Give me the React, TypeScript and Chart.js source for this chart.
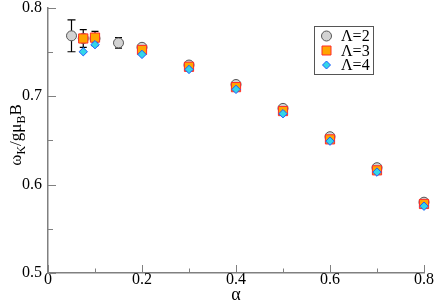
import React, { useEffect, useRef } from "react";
import { Chart, registerables } from "chart.js";

Chart.register(...registerables);

// ---- data ----
const alphaL2 = [0.05, 0.075, 0.1, 0.15, 0.2, 0.3, 0.4, 0.5, 0.6, 0.7, 0.8];
const omegaL2 = [0.768, 0.765, 0.765, 0.76, 0.755, 0.735, 0.713, 0.686, 0.654, 0.619, 0.58];
const errL2 = [0.018, 0.01, 0.008, 0.006, 0, 0, 0, 0, 0, 0, 0];

const alphaL3 = [0.075, 0.1, 0.2, 0.3, 0.4, 0.5, 0.6, 0.7, 0.8];
const omegaL3 = [0.765, 0.766, 0.752, 0.733, 0.71, 0.683, 0.651, 0.616, 0.578];

const alphaL4 = [0.075, 0.1, 0.2, 0.3, 0.4, 0.5, 0.6, 0.7, 0.8];
const omegaL4 = [0.75, 0.758, 0.747, 0.73, 0.7075, 0.68, 0.649, 0.614, 0.5755];

const seriesLabels = ["Λ=2", "Λ=3", "Λ=4"];
const xTitle = "α";

const FONT = '"Liberation Serif", "Times New Roman", serif';
const AXIS = "#808080";

const toPts = (xs: number[], ys: number[]) => xs.map((x, i) => ({ x, y: ys[i] }));

const styles = [
  { pointStyle: "circle", radius: 5, bg: "#d3d3d3", border: "#555555", bw: 1 },
  { pointStyle: "rect", radius: 6.5, bg: "#ffa500", border: "#ff2a2a", bw: 1 },
  { pointStyle: "rectRot", radius: 4.2, bg: "#33d6e8", border: "#1e5aff", bw: 1 },
];

const errorBarsPlugin = {
  id: "errorBars",
  beforeDatasetsDraw(chart: any) {
    const { ctx, scales } = chart;
    const xs = scales.x;
    const ys = scales.y;
    ctx.save();
    ctx.strokeStyle = "#000";
    ctx.lineWidth = 1.2;
    alphaL2.forEach((a, i) => {
      const e = errL2[i];
      if (!e) return;
      const px = xs.getPixelForValue(a);
      const top = ys.getPixelForValue(omegaL2[i] + e);
      const bot = ys.getPixelForValue(omegaL2[i] - e);
      const cap = i === 0 ? 4 : 3.5;
      ctx.beginPath();
      ctx.moveTo(px, top);
      ctx.lineTo(px, bot);
      ctx.moveTo(px - cap, top);
      ctx.lineTo(px + cap, top);
      ctx.moveTo(px - cap, bot);
      ctx.lineTo(px + cap, bot);
      ctx.stroke();
    });
    ctx.restore();
  },
};

const decorPlugin = {
  id: "decor",
  afterDraw(chart: any) {
    const { ctx, chartArea, scales } = chart;
    ctx.save();
    // inward tick marks
    ctx.strokeStyle = AXIS;
    ctx.lineWidth = 1;
    const xs = scales.x;
    xs.ticks.forEach((t: any) => {
      const px = Math.round(xs.getPixelForValue(t.value)) + 0.5;
      const len = t.label ? 8 : 4.5;
      ctx.beginPath();
      ctx.moveTo(px, chartArea.bottom);
      ctx.lineTo(px, chartArea.bottom - len);
      ctx.stroke();
    });
    const ysc = scales.y;
    ysc.ticks.forEach((t: any) => {
      const py = Math.round(ysc.getPixelForValue(t.value)) + 0.5;
      const len = t.label ? 8 : 5;
      ctx.beginPath();
      ctx.moveTo(chartArea.left, py);
      ctx.lineTo(chartArea.left + len, py);
      ctx.stroke();
    });

    // y title with subscripts
    const parts: [string, boolean][] = [
      ["ω", false],
      ["K", true],
      ["/gμ", false],
      ["B", true],
      ["B", false],
    ];
    const mainF = `17px ${FONT}`;
    const subF = `12px ${FONT}`;
    let total = 0;
    parts.forEach(([s, sub]) => {
      ctx.font = sub ? subF : mainF;
      total += ctx.measureText(s).width;
    });
    ctx.translate(21, 135);
    ctx.rotate(-Math.PI / 2);
    ctx.fillStyle = "#000";
    ctx.textBaseline = "alphabetic";
    ctx.textAlign = "left";
    let cx = -total / 2;
    parts.forEach(([s, sub]) => {
      ctx.font = sub ? subF : mainF;
      ctx.fillText(s, cx, sub ? 4 : 0);
      cx += ctx.measureText(s).width;
    });
    ctx.setTransform(1, 0, 0, 1, 0, 0);

    // legend
    const lx = 314.5, ly = 26.5, lw = 59, lh = 48;
    ctx.strokeStyle = "#555";
    ctx.lineWidth = 1;
    ctx.strokeRect(lx, ly, lw, lh);
    const rows = [36, 50.5, 65];
    ctx.font = `16px ${FONT}`;
    ctx.textBaseline = "middle";
    rows.forEach((ry, i) => {
      const st = styles[i];
      ctx.fillStyle = st.bg;
      ctx.strokeStyle = st.border;
      ctx.lineWidth = st.bw;
      const mx = 326.5;
      const r = i === 0 ? 5 : i === 1 ? 4.5 : 4;
      ctx.beginPath();
      if (i === 0) {
        ctx.arc(mx, ry, r, 0, Math.PI * 2);
      } else if (i === 1) {
        ctx.rect(mx - r, ry - r, 2 * r, 2 * r);
      } else {
        ctx.moveTo(mx, ry - r);
        ctx.lineTo(mx + r, ry);
        ctx.lineTo(mx, ry + r);
        ctx.lineTo(mx - r, ry);
        ctx.closePath();
      }
      ctx.fill();
      ctx.stroke();
      ctx.fillStyle = "#000";
      ctx.fillText(seriesLabels[i], 341, ry + 1);
    });
    ctx.restore();
  },
};

export default function App() {
  const ref = useRef<HTMLCanvasElement | null>(null);

  useEffect(() => {
    if (!ref.current) return;
    const datasets = [
      { label: seriesLabels[0], data: toPts(alphaL2, omegaL2), order: 3 },
      { label: seriesLabels[1], data: toPts(alphaL3, omegaL3), order: 2 },
      { label: seriesLabels[2], data: toPts(alphaL4, omegaL4), order: 1 },
    ].map((d, i) => ({
      ...d,
      showLine: false,
      clip: false,
      pointStyle: styles[i].pointStyle,
      pointRadius: styles[i].radius,
      pointBackgroundColor: styles[i].bg,
      pointBorderColor: styles[i].border,
      pointBorderWidth: styles[i].bw,
    }));

    const chart = new Chart(ref.current, {
      type: "scatter",
      data: { datasets } as any,
      plugins: [errorBarsPlugin, decorPlugin],
      options: {
        animation: false,
        responsive: false,
        maintainAspectRatio: false,
        layout: { padding: { top: 7, right: 12, left: 0, bottom: 0 } },
        plugins: { legend: { display: false }, tooltip: { enabled: false } },
        scales: {
          x: {
            type: "linear",
            min: 0,
            max: 0.8,
            afterFit(s: any) {
              s.height = 31;
              s.paddingLeft = 0;
              s.paddingRight = 0;
            },
            grid: { display: false, drawTicks: false },
            border: { display: true, color: AXIS, width: 1.5 },
            ticks: {
              stepSize: 0.1,
              autoSkip: false,
              maxRotation: 0,
              padding: -3,
              color: "#000",
              font: { family: FONT, size: 16 },
              callback: (v: any) => {
                const n = Math.round(Number(v) * 100);
                if (n % 20 !== 0) return "";
                return n === 0 ? "0" : (n / 100).toFixed(1);
              },
            },
            title: {
              display: true,
              text: xTitle,
              color: "#000",
              font: { family: FONT, size: 18 },
              padding: { top: 0, bottom: -2 },
            },
          },
          y: {
            type: "linear",
            min: 0.5,
            max: 0.8,
            afterFit(s: any) {
              s.width = 48;
              s.paddingTop = 0;
              s.paddingBottom = 0;
            },
            grid: { display: false, drawTicks: false },
            border: { display: true, color: AXIS, width: 1.5 },
            ticks: {
              stepSize: 0.05,
              autoSkip: false,
              padding: 6,
              color: "#000",
              font: { family: FONT, size: 16 },
              callback: (v: any) => {
                const n = Math.round(Number(v) * 100);
                if (n % 10 !== 0) return "";
                return (n / 100).toFixed(1);
              },
            },
          },
        },
      } as any,
    });
    return () => chart.destroy();
  }, []);

  return (
    <div style={{ position: "absolute", left: 0, top: 0, width: 436, height: 304 }}>
      <canvas ref={ref} width={436} height={304} style={{ display: "block", width: 436, height: 304 }} />
    </div>
  );
}
